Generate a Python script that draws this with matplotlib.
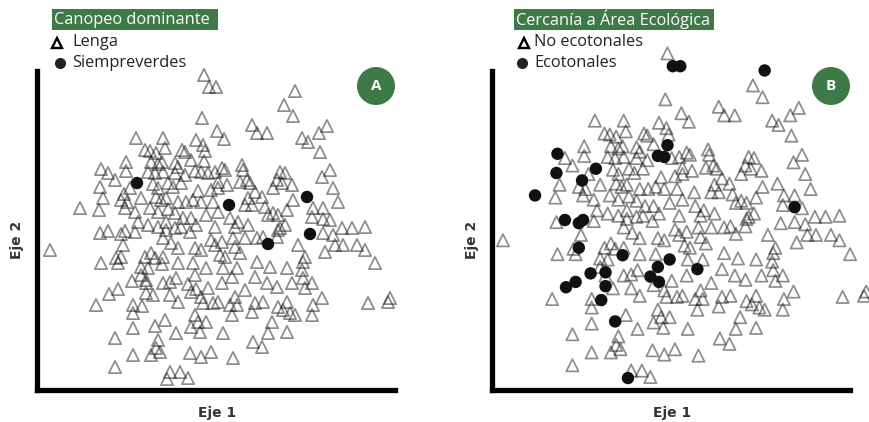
import matplotlib
matplotlib.use("Agg")
import matplotlib.pyplot as plt
from matplotlib.patches import Rectangle, Ellipse
import numpy as np

# ---- Data: NMDS-like scores (Eje 1, Eje 2) in arbitrary units ----
# Lenga plots not adjacent to ecotone
lenga_no_eco = [
    (166,314),(164,271),(179,258),(98,251),(125,251),(107,239),(112,238),(127,241),(144,239),(147,237),
    (158,249),(165,244),(167,238),(118,236),(88,227),(70,216),(77,209),(88,218),(113,227),(120,225),
    (124,227),(137,226),(140,222),(153,229),(110,217),(117,216),(125,217),(137,216),(147,214),(170,216),
    (177,217),(92,201),(115,205),(120,201),(130,206),(135,202),(143,206),(160,198),(173,199),(180,201),
    (65,191),(83,189),(89,187),(103,191),(118,192),(123,189),(128,191),(140,187),(148,187),(155,189),
    (163,187),(175,187),(61,179),(87,181),(97,177),(112,181),(120,177),(130,180),(137,176),(145,171),
    (153,171),(168,174),(100,167),(128,167),(158,164),(177,162),(62,156),(97,157),(110,164),(120,162),
    (128,159),(137,161),(143,162),(152,157),(125,151),(133,146),(140,141),(85,144),(78,131),(12,139),
    (107,132),(113,136),(117,131),(125,132),(157,141),(163,139),(173,149),(177,144),(63,126),(80,126),
    (103,122),(110,121),(140,126),(155,126),(103,114),(108,106),(125,106),(132,107),(138,111),(170,101),
    (115,94),(132,94),(140,87),(153,97),(163,92),(165,86),(175,86),(58,84),(95,84),(95,76),
    (127,69),(157,74),(160,67),(168,67),(153,62),(162,57),(95,61),(138,56),(77,51),(120,49),
    (118,41),(122,37),(113,34),(95,34),(152,36),(163,32),(173,37),(77,22),(132,17),(142,17),
    (150,11),(246,284),(255,273),(214,264),(219,256),(229,256),(264,251),(270,247),(281,256),(289,263),
    (282,237),(186,250),(292,219),(284,212),(295,201),(300,187),(204,224),(205,219),(202,207),(209,209),
    (212,206),(184,221),(187,219),(180,207),(189,204),(242,217),(247,216),(239,209),(244,206),(235,201),
    (254,204),(217,197),(224,192),(210,191),(207,184),(214,184),(255,189),(249,179),(227,182),(235,176),
    (240,174),(230,174),(275,181),(285,181),(274,172),(292,169),(180,177),(192,171),(200,167),(210,164),
    (197,162),(247,164),(242,161),(304,161),(327,162),(184,147),(195,151),(207,151),(197,142),(202,136),
    (187,132),(182,134),(219,151),(225,152),(240,159),(239,152),(260,144),(267,132),(265,127),(285,156),
    (295,154),(305,144),(287,137),(297,144),(314,161),(319,144),(327,139),(337,126),(219,127),(232,122),
    (249,121),(185,121),(199,121),(184,106),(217,112),(229,106),(239,102),(254,106),(264,119),(265,111),
    (274,106),(267,101),(207,99),(197,92),(180,87),(192,84),(199,84),(217,86),(225,87),(214,77),
    (240,82),(249,87),(245,79),(252,76),(257,74),(275,84),(284,91),(274,74),(330,86),(350,87),
    (352,91),(194,74),(234,67),(230,56),(249,57),(185,56),(215,47),(224,42),(195,31),
]
# Lenga plots adjacent to ecotone
lenga_eco = [
    (171,302),(178,302),(257,298),(166,228),(157,218),(163,217),(63,220),(62,202),(86,195),(42,181),
    (285,170),(70,158),(83,155),(87,158),(83,132),(124,125),(168,121),(157,114),(194,112),(94,108),
    (108,109),(150,105),(158,100),(80,100),(71,95),(108,96),(104,83),(117,63),(129,10),
]
# Evergreen (siempreverdes) plots
siemp_eco = [(99,206)]
siemp_no_eco = [(191,184),(269,192),(230,145),(272,155)]

panel_letters = ["A", "B"]
headers = ["Canopeo dominante", "Cercanía a Área Ecológica"]
legend_tri = ["Lenga", "No ecotonales"]
legend_dot = ["Siempreverdes", "Ecotonales"]
axis_x_label = "Eje 1"
axis_y_label = "Eje 2"

W, H = 870, 422
fig = plt.figure(figsize=(W/100, H/100), dpi=100)
fig.patch.set_facecolor("white")

GREEN = "#3e7a45"
FONT = ["Open Sans", "DejaVu Sans"]
FS = 11.8

def fx(x):
    return x / W

def fy(y):
    return 1 - y / H

def arr(pts):
    a = np.array(pts, dtype=float)
    return a[:, 0], a[:, 1]

# Panel geometry (pixels)
panels = [
    dict(left=37, right=395, xlim=(-1, 357), ylim=(-1, 318)),
    dict(left=492, right=850, xlim=(1.7, 336.9), ylim=(-1.2, 297.5)),
]
top_px, bot_px = 71, 390

tri_kw = dict(marker="^", s=78, facecolors="none", edgecolors=(0.1, 0.1, 0.1, 0.5),
              linewidths=1.25, clip_on=False, zorder=2)
dot_kw = dict(marker="o", s=80, color="#111111", edgecolors="none", clip_on=False, zorder=3)

for i, p in enumerate(panels):
    ax = fig.add_axes([fx(p["left"]), fy(bot_px), (p["right"] - p["left"]) / W,
                       (bot_px - top_px) / H])
    ax.set_xlim(*p["xlim"])
    ax.set_ylim(*p["ylim"])
    for s in ["top", "right"]:
        ax.spines[s].set_visible(False)
    for s in ["left", "bottom"]:
        ax.spines[s].set_linewidth(3.8)
        ax.spines[s].set_color("black")
        ax.spines[s].set_capstyle("projecting")
    ax.set_xticks([])
    ax.set_yticks([])
    ax.patch.set_alpha(0)

    if i == 0:
        tri = lenga_no_eco + lenga_eco
        dots = siemp_eco + siemp_no_eco
    else:
        tri = lenga_no_eco + siemp_no_eco
        dots = lenga_eco + siemp_eco
    tx, ty = arr(tri)
    dx, dy = arr(dots)
    ax.scatter(tx, ty, **tri_kw)
    ax.scatter(dx, dy, **dot_kw)

    # axis labels
    cx = (p["left"] + p["right"]) / 2 + 1
    fig.text(fx(cx), fy(413), axis_x_label, ha="center", va="center",
             fontsize=10, fontweight="bold", color="#333333", family="DejaVu Sans")
    fig.text(fx(p["left"] - 20), fy(240), axis_y_label, ha="center", va="center",
             rotation=90, fontsize=10, fontweight="bold", color="#333333", family="DejaVu Sans")

    # panel letter badge
    bx = 376 if i == 0 else 831
    fig.add_artist(Ellipse((fx(bx), fy(86)), 38 / W, 38 / H, transform=fig.transFigure,
                           facecolor=GREEN, edgecolor="none"))
    fig.text(fx(bx), fy(86), panel_letters[i], ha="center", va="center",
             fontsize=11, fontweight="bold", color="white", family=FONT)

# Header boxes and legends
hdr = [dict(x0=52, x1=218, mk_x=57, txt_x=72, dot_x=60),
       dict(x0=514, x1=714, mk_x=524, txt_x=534, dot_x=522)]
for i, h in enumerate(hdr):
    fig.add_artist(Rectangle((fx(h["x0"]), fy(30)), (h["x1"] - h["x0"]) / W, 21 / H,
                             transform=fig.transFigure, facecolor=GREEN, edgecolor="none"))
    fig.text(fx(h["x0"] + 2), fy(19.5), headers[i], ha="left", va="center",
             fontsize=FS, color="white", family=FONT)
    fig.add_artist(plt.Line2D([fx(h["mk_x"])], [fy(42.5)], marker="^", markersize=7.5,
                              markerfacecolor="none", markeredgecolor="black",
                              markeredgewidth=1.7, transform=fig.transFigure))
    fig.text(fx(h["txt_x"]), fy(42), legend_tri[i], ha="left", va="center",
             fontsize=FS, color="#222222", family=FONT)
    fig.add_artist(plt.Line2D([fx(h["dot_x"])], [fy(63)], marker="o", markersize=8,
                              markerfacecolor="#222222", markeredgecolor="none",
                              transform=fig.transFigure))
    fig.text(fx(h["txt_x"]), fy(63), legend_dot[i], ha="left", va="center",
             fontsize=FS, color="#222222", family=FONT)

fig.savefig("out.png", dpi=100, facecolor="white")
